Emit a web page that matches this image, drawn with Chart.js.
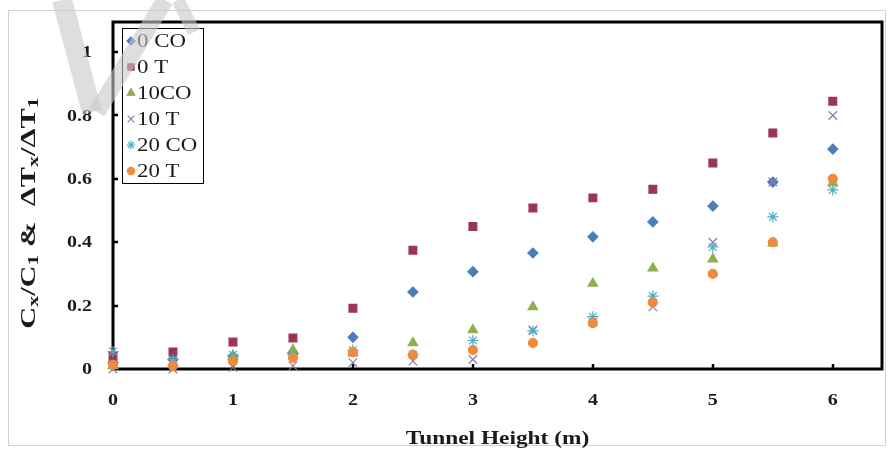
<!DOCTYPE html>
<html>
<head>
<meta charset="utf-8">
<script src="https://cdn.jsdelivr.net/npm/chart.js@4.4.1/dist/chart.umd.min.js"></script>
<style>
  html, body { margin: 0; padding: 0; background: #fff; }
  #wrap { width: 893px; height: 456px; }
</style>
</head>
<body>
<div id="wrap"><canvas id="tunnelChart" width="893" height="456"></canvas></div>
<script>
// tunnel height (m) on x, ratio Cx/C1 or dTx/dT1 on y
let heights = [0, 0.5, 1, 1.5, 2, 2.5, 3, 3.5, 4, 4.5, 5, 5.5, 6];
let co_0  = [0.02, 0.03, 0.04, 0.05, 0.10, 0.243, 0.307, 0.366, 0.417, 0.464, 0.514, 0.59, 0.694];
let t_0   = [0.04, 0.054, 0.085, 0.098, 0.192, 0.375, 0.45, 0.508, 0.54, 0.567, 0.65, 0.745, 0.845];
let co_10 = [0.01, 0.02, 0.04, 0.06, 0.05, 0.082, 0.123, 0.196, 0.27, 0.318, 0.347, 0.397, 0.587];
let t_10  = [0.0, 0.0, 0.005, 0.01, 0.02, 0.025, 0.03, 0.123, 0.148, 0.196, 0.40, 0.59, 0.80];
let co_20 = [0.055, 0.03, 0.045, 0.045, 0.06, 0.045, 0.09, 0.12, 0.165, 0.23, 0.385, 0.48, 0.565];
let t_20  = [0.013, 0.01, 0.025, 0.035, 0.053, 0.045, 0.06, 0.082, 0.145, 0.21, 0.30, 0.40, 0.60];

let series_names = ['0 CO', '0 T', '10CO', '10 T', '20 CO', '20 T'];
let x_ticks = [0, 1, 2, 3, 4, 5, 6];
let y_ticks = [0, 0.2, 0.4, 0.6, 0.8, 1];
let y_tick_labels = ['0', '0.2', '0.4', '0.6', '0.8', '1'];

const serif = '"Liberation Serif", "Times New Roman", serif';
const ink = '#1b1b1b';

// marker look per series
const marker_styles = [
    { pointStyle: 'rectRot',  radius: 5,   fill: '#4A7EBB', line: '#4A7EBB' },
    { pointStyle: 'rect',     radius: 5.5, fill: '#9C3552', line: '#9C3552' },
    { pointStyle: 'triangle', radius: 5.5, fill: '#8FAE4F', line: '#8FAE4F' },
    { pointStyle: 'crossRot', radius: 6,   fill: '#8A7BA8', line: '#8A7BA8' },
    { pointStyle: 'star',     radius: 5.5, fill: '#4BACC6', line: '#4BACC6' },
    { pointStyle: 'circle',   radius: 4.5, fill: '#F08A3C', line: '#F08A3C' }
];

const to_points = (values) => heights.map((h, i) => ({ x: h, y: values[i] }));

let all_values = [co_0, t_0, co_10, t_10, co_20, t_20];
let datasets = all_values.map((vals, i) => ({
    label: series_names[i],
    data: to_points(vals),
    pointStyle: marker_styles[i].pointStyle,
    pointRadius: marker_styles[i].radius,
    pointBackgroundColor: marker_styles[i].fill,
    pointBorderColor: marker_styles[i].line,
    pointBorderWidth: 1.2,
    showLine: false,
    clip: false,
    order: 6 - i
}));

// text stretched sideways
const wide_text = (ctx, text, x, y, font, sx, align) => {
    ctx.save();
    ctx.font = font;
    let w = ctx.measureText(text).width * sx;
    let left = align === 'right' ? x - w : (align === 'center' ? x - w / 2 : x);
    ctx.translate(left, y);
    ctx.scale(sx, 1);
    ctx.textAlign = 'left';
    ctx.fillText(text, 0, 0);
    ctx.restore();
};

// text run with subscripts: parts = [[text, isSub], ...]
const sub_text = (ctx, parts, x, y, size, sx, weight) => {
    let big = weight + ' ' + size + 'px ' + serif;
    let small = weight + ' ' + Math.round(size * 0.72) + 'px ' + serif;
    let total = 0;
    parts.forEach(p => {
        ctx.font = p[1] ? small : big;
        total += ctx.measureText(p[0]).width * sx;
    });
    let cx = x - total / 2;
    parts.forEach(p => {
        ctx.font = p[1] ? small : big;
        let w = ctx.measureText(p[0]).width * sx;
        ctx.save();
        ctx.translate(cx, y + (p[1] ? size * 0.12 : 0));
        ctx.scale(sx, 1);
        ctx.fillText(p[0], 0, 0);
        ctx.restore();
        cx += w;
    });
};

const chart_decor = {
    id: 'chart_decor',
    beforeDraw(chart) {
        const ctx = chart.ctx;
        ctx.save();
        ctx.fillStyle = '#fff';
        ctx.fillRect(0, 0, chart.width, chart.height);
        ctx.strokeStyle = '#d2d2d2';
        ctx.lineWidth = 1;
        ctx.strokeRect(8.5, 10.5, 877, 435);
        ctx.restore();
    },
    beforeDatasetsDraw(chart) {
        const ctx = chart.ctx;
        const a = chart.chartArea;
        const xs = chart.scales.x, ys = chart.scales.y;
        ctx.save();
        ctx.strokeStyle = '#000';
        ctx.lineWidth = 3;
        ctx.strokeRect(a.left, a.top, a.right - a.left, a.bottom - a.top);
        // inward tick marks
        ctx.lineWidth = 2.5;
        y_ticks.forEach(v => {
            if (v === 0) return;
            let py = Math.round(ys.getPixelForValue(v));
            ctx.beginPath(); ctx.moveTo(a.left, py); ctx.lineTo(a.left + 5, py); ctx.stroke();
        });
        x_ticks.forEach(v => {
            if (v === 0) return;
            let px = Math.round(xs.getPixelForValue(v));
            ctx.beginPath(); ctx.moveTo(px, a.bottom); ctx.lineTo(px, a.bottom - 5); ctx.stroke();
        });
        ctx.restore();
    },
    afterDraw(chart) {
        const ctx = chart.ctx;
        const a = chart.chartArea;
        const xs = chart.scales.x, ys = chart.scales.y;
        ctx.save();
        ctx.fillStyle = ink;
        ctx.textBaseline = 'middle';

        // tick labels
        y_ticks.forEach((v, i) => {
            wide_text(ctx, y_tick_labels[i], 92, ys.getPixelForValue(v) + 1, 'bold 16px ' + serif, 1.25, 'right');
        });
        x_ticks.forEach(v => {
            wide_text(ctx, String(v), xs.getPixelForValue(v), 401, 'bold 16px ' + serif, 1.25, 'center');
        });

        // axis titles
        ctx.textBaseline = 'alphabetic';
        wide_text(ctx, 'Tunnel Height (m)', (a.left + a.right) / 2, 444, 'bold 19px ' + serif, 1.23, 'center');

        ctx.save();
        ctx.translate(35, 213);
        ctx.rotate(-Math.PI / 2);
        sub_text(ctx, [['C', 0], ['x', 1], ['/C', 0], ['1', 1], [' &  \u0394T', 0], ['x', 1], ['/\u0394T', 0], ['1', 1]],
            0, 0, 21, 1.45, 'bold');
        ctx.restore();

        // legend box
        ctx.strokeStyle = '#000';
        ctx.lineWidth = 1;
        ctx.strokeRect(122.5, 28.5, 81, 155);
        ctx.textBaseline = 'middle';
        series_names.forEach((name, i) => {
            let cy = 41 + i * 26;
            let m = marker_styles[i];
            ctx.fillStyle = m.fill;
            ctx.strokeStyle = m.line;
            ctx.lineWidth = 1.2;
            Chart.helpers.drawPoint(ctx, { pointStyle: m.pointStyle, radius: m.radius * 0.8, rotation: 0, borderWidth: 1.2 }, 131, cy);
            ctx.fillStyle = ink;
            wide_text(ctx, name, 137, cy + 1, '18px ' + serif, 1.27, 'left');
        });

        // faint diagonal watermark strokes over the top left corner
        ctx.strokeStyle = 'rgba(200, 200, 200, 0.6)';
        ctx.lineCap = 'butt';
        ctx.lineWidth = 20;
        ctx.beginPath(); ctx.moveTo(62, 0); ctx.lineTo(92, 112); ctx.stroke();
        ctx.lineWidth = 17;
        ctx.beginPath(); ctx.moveTo(165, 0); ctx.lineTo(97, 112); ctx.stroke();
        ctx.lineWidth = 13;
        ctx.beginPath(); ctx.moveTo(178, 0); ctx.lineTo(194, 32); ctx.stroke();
        ctx.restore();
    }
};

let chart_canvas = document.getElementById('tunnelChart');
let chart = new Chart(chart_canvas, {
    type: 'scatter',
    data: { datasets: datasets },
    options: {
        responsive: false,
        animation: false,
        layout: { padding: { top: 22, right: 11, left: 0, bottom: 0 } },
        plugins: { legend: { display: false }, tooltip: { enabled: false } },
        scales: {
            x: {
                type: 'linear', min: 0, max: 6.41,
                ticks: { display: false },
                grid: { display: false },
                border: { display: false },
                afterFit: (s) => { s.height = 87; }
            },
            y: {
                type: 'linear', min: 0, max: 1.095,
                ticks: { display: false },
                grid: { display: false },
                border: { display: false },
                afterFit: (s) => { s.width = 113; }
            }
        }
    },
    plugins: [chart_decor]
});
</script>
</body>
</html>
